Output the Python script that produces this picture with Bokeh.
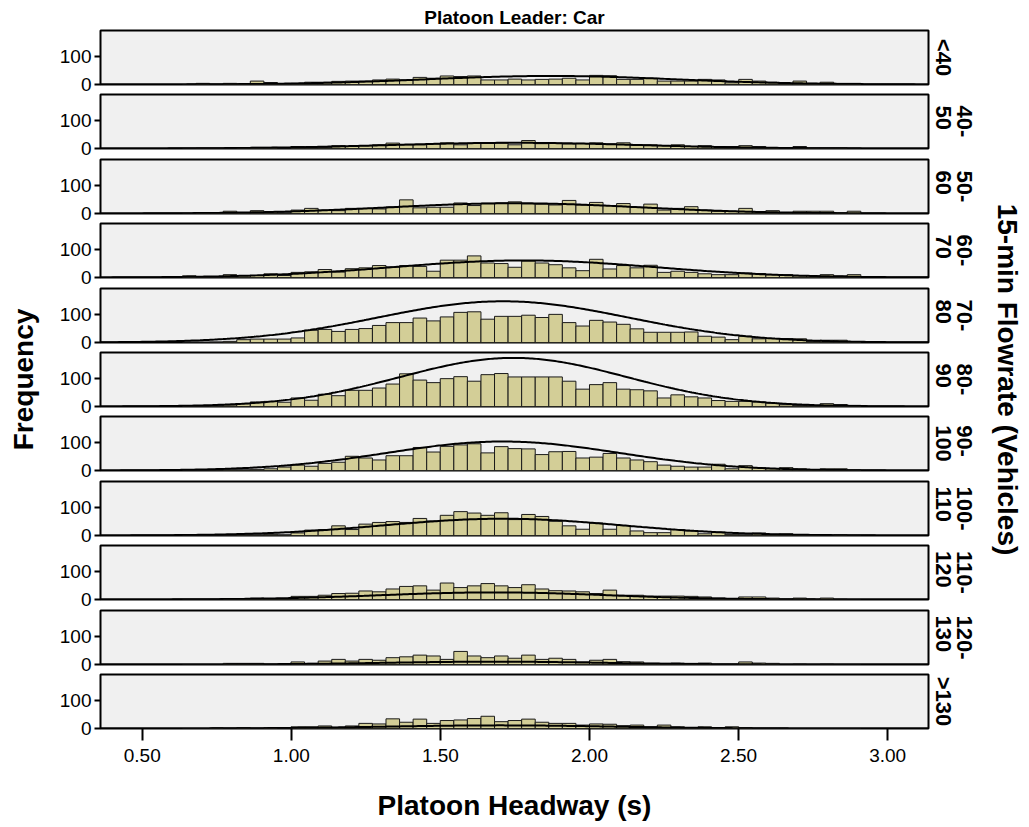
import numpy as np
from bokeh.plotting import figure
from bokeh.layouts import column, row
from bokeh.models import Title, FixedTicker, Range1d, NumeralTickFormatter
from bokeh.embed import file_html
from bokeh.resources import INLINE

# ---------------- data ----------------
bin_start = 0.635
bin_width = 0.0455
n_bins = 50
x_ticks = [0.5, 1.0, 1.5, 2.0, 2.5, 3.0]
y_ticks = [0, 100]

flow_labels = ["<40", "40-\n50", "50-\n60", "60-\n70", "70-\n80", "80-\n90",
               "90-\n100", "100-\n110", "110-\n120", "120-\n130", ">130"]

counts_lt40 = [0, 4, 0, 4, 2, 12, 7, 2, 4, 8, 8, 11, 12, 12, 16, 19, 16, 25, 22, 30,
               28, 30, 16, 16, 19, 16, 18, 19, 22, 16, 32, 31, 18, 18, 22, 12, 12, 12, 18, 16,
               6, 18, 12, 8, 4, 12, 4, 8, 4, 4]
counts_40_50 = [0, 1, 1, 0, 2, 4, 4, 0, 7, 2, 4, 10, 7, 10, 13, 19, 13, 13, 16, 20,
                13, 19, 20, 19, 13, 28, 17, 19, 16, 18, 20, 16, 20, 11, 13, 10, 13, 7, 10, 7,
                7, 10, 7, 2, 0, 7, 2, 2, 2, 0]
counts_50_60 = [0, 2, 2, 8, 2, 10, 5, 2, 12, 18, 12, 10, 18, 18, 16, 23, 48, 20, 22, 22,
                37, 28, 36, 37, 41, 34, 33, 30, 46, 30, 39, 28, 35, 22, 33, 12, 18, 24, 12, 8,
                8, 18, 5, 10, 2, 8, 8, 8, 2, 8]
counts_60_70 = [6, 1, 1, 10, 6, 7, 13, 7, 18, 20, 28, 19, 31, 34, 42, 37, 42, 39, 22, 61,
                61, 76, 51, 49, 36, 58, 51, 45, 34, 24, 64, 30, 42, 34, 43, 18, 22, 18, 13, 10,
                10, 16, 14, 10, 10, 6, 6, 10, 6, 10]
counts_70_80 = [0, 0, 1, 4, 10, 12, 12, 12, 16, 43, 46, 39, 46, 49, 60, 70, 70, 86, 76, 90,
                106, 108, 82, 92, 92, 96, 88, 99, 70, 58, 78, 72, 64, 48, 36, 36, 36, 37, 22, 19,
                10, 22, 13, 14, 14, 13, 4, 8, 8, 2]
counts_80_90 = [1, 1, 2, 5, 10, 16, 18, 15, 30, 22, 43, 38, 57, 57, 65, 79, 115, 93, 84, 98,
                105, 89, 112, 116, 104, 104, 104, 104, 89, 61, 77, 84, 61, 59, 55, 30, 41, 34, 30, 21,
                18, 18, 16, 12, 6, 4, 2, 10, 7, 4]
counts_90_100 = [0, 0, 1, 2, 2, 4, 6, 12, 19, 15, 25, 29, 50, 44, 37, 52, 52, 81, 65, 85,
                 90, 94, 62, 84, 77, 76, 56, 66, 67, 44, 47, 60, 44, 37, 31, 19, 15, 12, 12, 22,
                 6, 17, 10, 6, 10, 6, 2, 6, 6, 2]
counts_100_110 = [0, 0, 0, 1, 2, 2, 4, 2, 9, 19, 21, 34, 21, 40, 46, 49, 46, 60, 51, 71,
                  84, 79, 71, 80, 56, 74, 67, 50, 34, 22, 44, 22, 35, 16, 10, 10, 21, 16, 6, 12,
                  4, 2, 9, 4, 6, 2, 2, 0, 2, 0]
counts_110_120 = [0, 0, 0, 2, 2, 5, 2, 2, 11, 11, 15, 21, 22, 30, 27, 37, 46, 48, 33, 58,
                  42, 48, 56, 48, 42, 52, 37, 31, 30, 27, 21, 33, 15, 15, 12, 12, 12, 11, 9, 5,
                  2, 9, 9, 5, 1, 5, 1, 5, 1, 0]
counts_120_130 = [0, 0, 0, 4, 4, 4, 0, 0, 9, 4, 12, 18, 12, 18, 15, 24, 27, 33, 30, 18,
                  46, 30, 24, 30, 22, 33, 18, 22, 18, 9, 15, 18, 10, 9, 4, 4, 5, 4, 5, 0,
                  0, 9, 5, 4, 0, 1, 0, 1, 0, 0]
counts_gt130 = [0, 0, 2, 0, 3, 0, 3, 0, 6, 6, 9, 4, 9, 18, 16, 34, 22, 33, 18, 28,
                30, 35, 43, 24, 28, 33, 22, 18, 18, 12, 16, 15, 10, 12, 6, 12, 6, 3, 6, 3,
                6, 3, 0, 0, 0, 0, 0, 0, 0, 0]

all_counts = [counts_lt40, counts_40_50, counts_50_60, counts_60_70, counts_70_80,
              counts_80_90, counts_90_100, counts_100_110, counts_110_120,
              counts_120_130, counts_gt130]

# fitted normal curve parameters
curve_mean = [1.87, 1.75, 1.75, 1.78, 1.71, 1.745, 1.71, 1.71, 1.68, 1.68, 1.70]
curve_sd = [0.42, 0.42, 0.42, 0.44, 0.42, 0.38, 0.39, 0.40, 0.38, 0.36, 0.38]
curve_peak = [30, 20, 36, 60, 145, 171, 102, 59, 25, 10, 11]

# ---------------- style / layout ----------------
FONT = "Liberation Sans"
BAR_FILL = "#D3CE97"
PANEL_BG = "#F0F0F0"
X_MIN, X_MAX = 0.36, 3.137
Y_MAX = 190
FRAME_W = 834
FRAME_H = 54
PITCH = 64.4
FIRST_TOP = 30
LEFT_W = 50
BORDER_L = 50
BORDER_R = 46
B_TOP = 2
B_BOT = 14
PAGE_H = 826
PAGE_W = 1028

edges = bin_start + bin_width * np.arange(n_bins + 1)
xs = np.linspace(X_MIN, X_MAX, 400)

n_pan = len(flow_labels)
tops = [FIRST_TOP + int(round(PITCH * k)) for k in range(n_pan)]

panels = []
prev_end = 0
for k in range(n_pan):
    last = (k == n_pan - 1)
    first = (k == 0)
    b_top = FIRST_TOP if first else B_TOP
    fig_top = tops[k] - b_top
    if last:
        h = PAGE_H - fig_top
    else:
        h = b_top + FRAME_H + B_BOT
    b_bot = h - b_top - FRAME_H
    m_top = fig_top - prev_end
    prev_end = fig_top + h
    p = figure(width=BORDER_L + FRAME_W + BORDER_R, height=h,
               x_range=Range1d(X_MIN, X_MAX), y_range=Range1d(0, Y_MAX),
               output_backend="svg", toolbar_location=None,
               min_border_left=BORDER_L, min_border_right=BORDER_R,
               min_border_top=b_top, min_border_bottom=b_bot,
               margin=(m_top, 0, 0, 0),
               background_fill_color=PANEL_BG, border_fill_alpha=0,
               outline_line_color="black", outline_line_width=2)
    p.grid.visible = False
    counts = all_counts[k]
    p.quad(left=edges[:-1], right=edges[1:], bottom=0, top=counts,
           fill_color=BAR_FILL, line_color="#1a1a1a", line_width=1)
    ys = curve_peak[k] * np.exp(-0.5 * ((xs - curve_mean[k]) / curve_sd[k]) ** 2)
    p.line(xs, ys, line_color="black", line_width=2)

    ya = p.yaxis[0]
    ya.ticker = FixedTicker(ticks=y_ticks)
    ya.axis_line_color = None
    ya.major_tick_out = 6
    ya.major_tick_in = 0
    ya.major_tick_line_width = 2
    ya.minor_tick_line_color = None
    ya.major_label_text_font = FONT
    ya.major_label_text_font_size = "19px"
    ya.major_label_text_color = "black"
    ya.major_label_standoff = 3

    xa = p.xaxis[0]
    if last:
        xa.ticker = FixedTicker(ticks=x_ticks)
        xa.formatter = NumeralTickFormatter(format="0.00")
        xa.axis_line_color = None
        xa.major_tick_out = 12
        xa.major_tick_in = 0
        xa.major_tick_line_width = 2
        xa.minor_tick_line_color = None
        xa.major_label_text_font = FONT
        xa.major_label_text_font_size = "19px"
        xa.major_label_text_color = "black"
        xa.major_label_standoff = 8
        xa.axis_label = "Platoon Headway (s)"
        xa.axis_label_text_font = FONT
        xa.axis_label_text_font_size = "28px"
        xa.axis_label_text_font_style = "bold"
        xa.axis_label_text_color = "black"
        xa.axis_label_standoff = 25
    else:
        xa.visible = False

    lab = Title(text=flow_labels[k], align="center", text_font=FONT,
                text_font_size="22px", text_font_style="bold", text_color="black",
                text_line_height=0.85, standoff=4)
    p.add_layout(lab, "right")

    if first:
        p.title.text = "Platoon Leader: Car"
        p.title.align = "center"
        p.title.text_font = FONT
        p.title.text_font_size = "19px"
        p.title.text_font_style = "bold"
        p.title.text_color = "black"
        p.title.standoff = 6
    panels.append(p)

frame_top = tops[0]
frame_bottom = tops[-1] + FRAME_H


def side_fig(width, text, side, top, bottom, standoff):
    f = figure(width=width, height=PAGE_H, x_range=Range1d(0, 1), y_range=Range1d(0, 1),
               output_backend="svg", toolbar_location=None,
               min_border_left=40 if side == "left" else 0,
               min_border_right=40 if side == "right" else 0,
               min_border_top=top, min_border_bottom=PAGE_H - bottom,
               outline_line_color=None, background_fill_color="white")
    f.axis.visible = False
    f.grid.visible = False
    t = Title(text=text, align="center", text_font=FONT, text_font_size="28px",
              text_font_style="bold", text_color="black", standoff=standoff)
    f.add_layout(t, side)
    return f


left_fig = side_fig(LEFT_W, "Frequency", "left", frame_top, frame_bottom, 4)
right_w = PAGE_W - LEFT_W - (BORDER_L + FRAME_W + BORDER_R)
right_fig = side_fig(right_w, "15-min Flowrate (Vehicles)", "right",
                     frame_top - 14, frame_bottom, 8)

layout = row(left_fig, column(*panels, spacing=0), right_fig, spacing=0)

open("out.html", "w").write(file_html(layout, INLINE))
